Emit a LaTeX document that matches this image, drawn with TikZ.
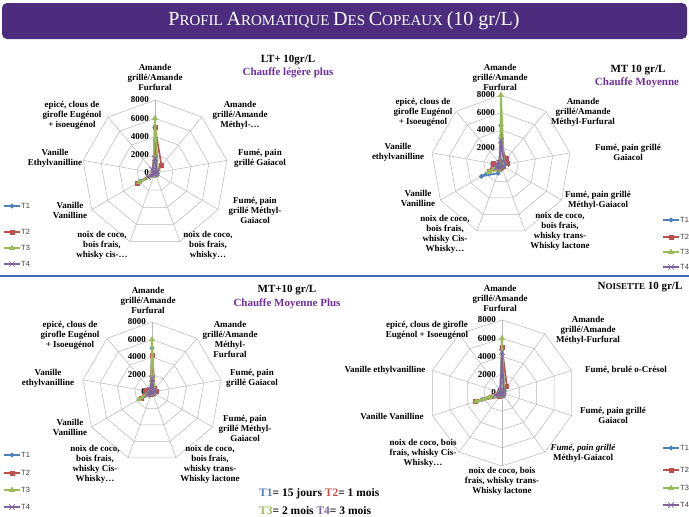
\documentclass[tikz,border=0pt]{standalone}
\usepackage{fontspec}
\setmainfont{Liberation Serif}
\newfontfamily\lgfont{Liberation Sans}
\usetikzlibrary{shapes.geometric,shapes.misc,calc}
\definecolor{cA}{HTML}{4F81BD}
\definecolor{cB}{HTML}{C0504D}
\definecolor{cC}{HTML}{9BBB59}
\definecolor{cD}{HTML}{8064A2}
\definecolor{ttl}{HTML}{4B2C7D}
\definecolor{sub}{HTML}{7030A0}
\definecolor{sep}{HTML}{3C6FB0}
\tikzset{
 grid/.style={draw=gray!55,line width=0.5pt},
 tick/.style={anchor=east,font=\fontsize{9}{9}\selectfont\bfseries,inner sep=1pt},
 lab/.style={align=center,font=\fontsize{9}{10}\selectfont\bfseries,inner sep=0pt},
 ctitle/.style={font=\fontsize{11}{12}\selectfont\bfseries,inner sep=0pt},
 csub/.style={font=\fontsize{11}{12}\selectfont\bfseries,text=sub,inner sep=0pt},
 mkA/.style={diamond,fill=cA,inner sep=0pt,minimum size=5.5pt},
 mkB/.style={rectangle,fill=cB,inner sep=0pt,minimum size=5pt},
 mkC/.style={regular polygon,regular polygon sides=3,fill=cC,inner sep=0pt,minimum size=7pt},
 mkD/.style={cross out,draw=cD,inner sep=0pt,minimum size=5pt,line width=0.7pt},
 lgt/.style={font=\lgfont\fontsize{7.5}{8}\selectfont,text=black!75,inner sep=1pt},
}
\newcommand\rgrid[3]{%
 \foreach \k in {1,...,4}{\draw[grid] (90:{#2*\k/4}) \foreach \i in {1,...,#1}{ -- ({90-\i*360/#1}:{#2*\k/4})} -- cycle;}
 \foreach \i in {1,...,#1}{\draw[grid] (0,0) -- ({90-\i*360/#1}:#2);}
 \foreach \k/\t in {0/0,1/2000,2/4000,3/6000,4/8000}{\node[tick] (#3t\k) at (-5,{#2*\k/4}) {\t};}
}
\newcommand\rseries[6]{%
 \foreach \v [count=\i from 0] in {#6}{\coordinate (#3p\i) at ({90-\i*360/#1}:{#2*(\v/8000)});}
 \pgfmathtruncatemacro\nm{#1-1}
 \draw[#4,line width=1.7pt,line join=round] (#3p0) \foreach \j in {1,...,\nm}{ -- (#3p\j)} -- cycle;
 \foreach \j in {0,...,\nm}{\node[#5] (#3m\j) at (#3p\j) {};}
}
\newcommand\lgd[6]{%
 \foreach \y/\c/\m/\t in {#2/cA/mkA/T1,#3/cB/mkB/T2,#4/cC/mkC/T3,#5/cD/mkD/T4}{
  \coordinate (#6\t a) at (#1,-\y); \coordinate (#6\t b) at (#1+16,-\y);
  \draw[\c,line width=1.4pt] (#6\t a)--(#6\t b);
  \node[\m] (#6\t m) at ($(#6\t a)!.5!(#6\t b)$) {};
  \node[lgt,anchor=west] (#6\t l) at (#6\t b) {\t};}}
\begin{document}
\begin{tikzpicture}[x=1pt,y=1pt]
\useasboundingbox (0,0) rectangle (689,-517);
\fill[white] (0,0) rectangle (689,-517);
\fill[ttl,rounded corners=5pt] (2,-3) rectangle (687,-39);
\node[text=white,font=\fontsize{15}{16}\selectfont] (title) at (344,-21) {{\fontsize{20}{20}\selectfont P}ROFIL {\fontsize{20}{20}\selectfont A}ROMATIQUE {\fontsize{20}{20}\selectfont D}ES {\fontsize{20}{20}\selectfont C}OPEAUX {\fontsize{20}{20}\selectfont (10 gr/L)}};
\coordinate (sepL) at (0,-276); \coordinate (sepR) at (689,-276);
\draw[sep,line width=1.6pt] (sepL) -- (sepR);

% Chart 1
\begin{scope}[shift={(155,-173)}]
\rgrid{9}{73}{a}
\rseries{9}{73}{aA}{cA}{mkA}{5000,300,200,100,200,300,1800,100,300}
\rseries{9}{73}{aB}{cB}{mkB}{5000,1100,200,100,200,200,2200,200,300}
\rseries{9}{73}{aC}{cC}{mkC}{6000,500,200,100,200,300,2000,100,300}
\rseries{9}{73}{aD}{cD}{mkD}{1600,300,200,100,100,200,900,100,500}
\end{scope}
\node[lab] (a1) at (155,-77) {Amande\\grillé/Amande\\Furfural};
\node[lab] (a2) at (240,-115) {Amande\\grillé/Amande\\Méthyl-…};
\node[lab] (a3) at (260,-158) {Fumé, pain\\grillé Gaiacol};
\node[lab] (a4) at (255,-210) {Fumé, pain\\grillé Méthyl-\\Gaiacol};
\node[lab] (a5) at (208,-245) {noix de coco,\\bois frais,\\whisky…};
\node[lab] (a6) at (102,-245) {noix de coco,\\bois frais,\\whisky cis-…};
\node[lab] (a7) at (70,-210) {Vanille\\Vanilline};
\node[lab] (a8) at (55,-158) {Vanille\\Ethylvanilline};
\node[lab] (a9) at (72,-115) {epicé, clous de\\girofle Eugénol\\+ isoeugénol};
\node[ctitle] (at) at (288,-60) {LT+ 10gr/L};
\node[csub] (as) at (288,-73) {Chauffe légère plus};
\lgd{4}{206}{232}{248}{264}{la}

% Chart 2
\begin{scope}[shift={(501,-165)}]
\rgrid{9}{70}{b}
\rseries{9}{70}{bA}{cA}{mkA}{4500,600,300,200,400,1000,2600,200,300}
\rseries{9}{70}{bB}{cB}{mkB}{2200,900,800,300,300,500,1500,900,300}
\rseries{9}{70}{bC}{cC}{mkC}{8000,500,400,200,300,600,1600,300,200}
\rseries{9}{70}{bD}{cD}{mkD}{2800,500,600,300,200,400,600,400,300}
\end{scope}
\node[lab] (b1) at (500,-77) {Amande\\grillé/Amande\\Furfural};
\node[lab] (b2) at (583,-112) {Amande\\grillé/Amande\\Méthyl-Furfural};
\node[lab] (b3) at (628,-152) {Fumé, pain grillé\\Gaiacol};
\node[lab] (b4) at (598,-200) {Fumé, pain grillé\\Méthyl-Gaiacol};
\node[lab] (b5) at (560,-231) {noix de coco,\\bois frais,\\whisky trans-\\Whisky lactone};
\node[lab] (b6) at (445,-234) {noix de coco,\\bois frais,\\whisky Cis-\\Whisky…};
\node[lab] (b7) at (418,-198) {Vanille\\Vanilline};
\node[lab] (b8) at (398,-152) {Vanille\\ethylvanilline};
\node[lab] (b9) at (423,-112) {epicé, clous de\\girofle Eugénol\\+ Isoeugénol};
\node[ctitle] (bt) at (638,-70) {MT 10 gr/L};
\node[csub] (bs) at (637,-83) {Chauffe Moyenne};
\lgd{663}{220}{237}{252}{267}{lb}

% Chart 3
\begin{scope}[shift={(152,-392)}]
\rgrid{9}{70}{c}
\rseries{9}{70}{cA}{cA}{mkA}{5000,400,200,200,200,300,1500,300,200}
\rseries{9}{70}{cB}{cB}{mkB}{4200,500,500,200,200,300,1400,700,300}
\rseries{9}{70}{cC}{cC}{mkC}{6000,400,200,200,200,300,1700,300,200}
\rseries{9}{70}{cD}{cD}{mkD}{1500,300,300,200,200,200,700,200,300}
\end{scope}
\node[lab] (c1) at (148,-300) {Amande\\grillé/Amande\\Furfural};
\node[lab] (c2) at (230,-339) {Amande\\grillé/Amande\\Méthyl-\\Furfural};
\node[lab] (c3) at (252,-378) {Fumé, pain\\grillé Gaiacol};
\node[lab] (c4) at (245,-428) {Fumé, pain\\grillé Méthyl-\\Gaiacol};
\node[lab] (c5) at (210,-464) {noix de coco,\\bois frais,\\whisky trans-\\Whisky lactone};
\node[lab] (c6) at (95,-464) {noix de coco,\\bois frais,\\whisky Cis-\\Whisky…};
\node[lab] (c7) at (70,-427) {Vanille\\Vanilline};
\node[lab] (c8) at (48,-378) {Vanille\\ethylvanilline};
\node[lab] (c9) at (70,-335) {epicé, clous de\\girofle Eugénol\\+ Isoeugénol};
\node[ctitle] (ct) at (287,-290) {MT+10 gr/L};
\node[csub] (cs) at (287,-304) {Chauffe Moyenne Plus};
\lgd{4}{455}{473}{490}{507}{lc}
\node[anchor=west,font=\fontsize{11.5}{12}\selectfont\bfseries,inner sep=0pt] (k1) at (259,-494) {\textcolor{cA}{T1}= 15 jours \textcolor{cB}{T2}= 1 mois};
\node[anchor=west,font=\fontsize{11.5}{12}\selectfont\bfseries,inner sep=0pt] (k2) at (259,-511) {\textcolor{cC}{T3}= 2 mois \textcolor{cD}{T4}= 3 mois};

% Chart 4
\begin{scope}[shift={(502,-393)}]
\rgrid{10}{73}{d}
\rseries{10}{73}{dA}{cA}{mkA}{5000,400,100,100,100,300,500,2300,200,300}
\rseries{10}{73}{dB}{cB}{mkB}{5000,900,200,100,100,300,500,3000,300,300}
\rseries{10}{73}{dC}{cC}{mkC}{6000,400,100,100,100,300,400,3000,200,300}
\rseries{10}{73}{dD}{cD}{mkD}{4500,300,100,100,100,200,300,800,100,300}
\end{scope}
\node[lab] (d1) at (500,-298) {Amande\\grillé/Amande\\Furfural};
\node[lab] (d2) at (588,-330) {Amande\\grillé/Amande\\Méthyl-Furfural};
\node[lab] (d3) at (626,-370) {Fumé, brulé o-Crésol};
\node[lab] (d4) at (613,-415) {Fumé, pain grillé\\Gaiacol};
\node[lab] (d5) at (583,-453) {\itshape Fumé, pain grillé\\Méthyl-Gaiacol};
\node[lab] (d6) at (502,-481) {noix de coco, bois\\frais, whisky trans-\\Whisky lactone};
\node[lab] (d7) at (423,-453) {noix de coco, bois\\frais, whisky Cis-\\Whisky…};
\node[lab] (d8) at (392,-416) {Vanille Vanilline};
\node[lab] (d9) at (385,-370) {Vanille ethylvanilline};
\node[lab] (d10) at (427,-330) {epicé, clous de girofle\\Eugénol + Isoeugénol};
\node[ctitle] (dt) at (640,-287) {N{\fontsize{9}{9}\selectfont OISETTE} 10 gr/L};
\lgd{663}{448}{470}{488}{505}{ld}
\end{tikzpicture}
\end{document}
